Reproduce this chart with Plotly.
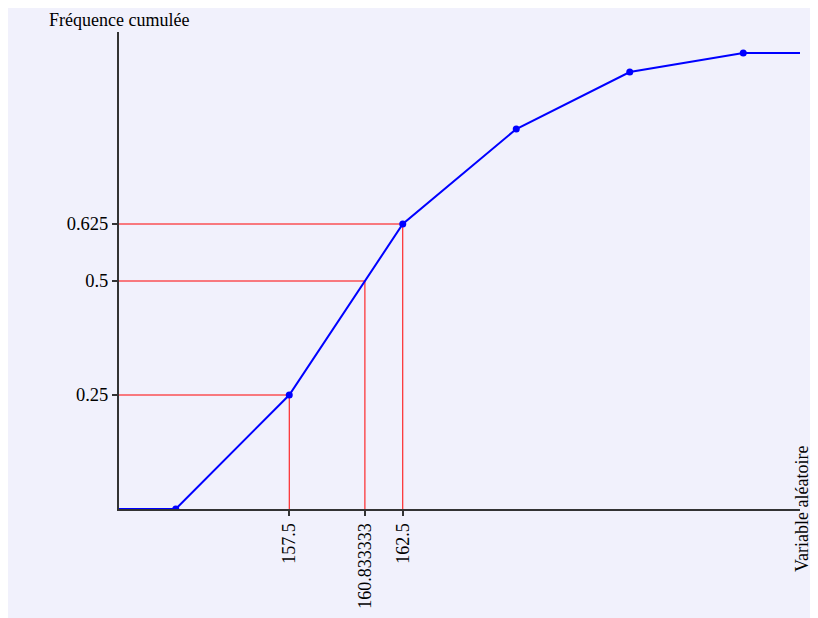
import plotly.graph_objects as go

# Data
class_bounds = [150, 152.5, 157.5, 162.5, 167.5, 172.5, 177.5, 180]
cumulative_freq = [0, 0, 6/24, 15/24, 20/24, 23/24, 1, 1]
marker_x = [152.5, 157.5, 162.5, 167.5, 172.5, 177.5]
marker_y = [0, 6/24, 15/24, 20/24, 23/24, 1]
quantile_levels = [0.25, 0.5, 0.625]
quantile_values = [157.5, 160.833333, 162.5]
x_tick_labels = ["157.5", "160.833333", "162.5"]
y_tick_labels = ["0.25", "0.5", "0.625"]

FONT = "Liberation Serif"
BG = "#f1f1fc"

fig = go.Figure()

# red guide lines
for lvl, val in zip(quantile_levels, quantile_values):
    fig.add_trace(go.Scatter(x=[class_bounds[0], val, val], y=[lvl, lvl, 0],
                             mode="lines", line=dict(color="red", width=1),
                             hoverinfo="skip", showlegend=False))

fig.add_trace(go.Scatter(x=class_bounds, y=cumulative_freq, mode="lines",
                         line=dict(color="blue", width=2), showlegend=False))
fig.add_trace(go.Scatter(x=marker_x, y=marker_y, mode="markers",
                         marker=dict(color="blue", size=7), showlegend=False))

W, H = 810, 610
L, T = 111, 24
pw, ph = 681, 477
R = W - L - pw
B = H - T - ph

fig.update_layout(
    width=W, height=H,
    margin=dict(l=L, r=R, t=T, b=B, autoexpand=False),
    paper_bgcolor=BG,
    plot_bgcolor=BG,
    font=dict(family=FONT, size=18, color="black"),
    showlegend=False,
)
fig.update_xaxes(range=[150, 180], showgrid=False, zeroline=False,
                 automargin=False,
                 showline=True, linecolor="#333", linewidth=2,
                 tickvals=quantile_values, ticktext=x_tick_labels,
                 tickangle=-90, ticks="outside", ticklen=5, tickwidth=2,
                 tickcolor="#333", tickfont=dict(family=FONT, size=18))
fig.update_yaxes(range=[0, 477/456], showgrid=False, zeroline=False,
                 automargin=False,
                 showline=True, linecolor="#333", linewidth=2,
                 tickvals=quantile_levels, ticktext=y_tick_labels,
                 ticks="outside", ticklen=5, tickwidth=2,
                 tickcolor="#333", tickfont=dict(family=FONT, size=18.5))

fig.add_annotation(text="Fréquence cumulée", xref="paper", yref="paper",
                   x=0, y=1, xanchor="center", yanchor="bottom",
                   showarrow=False, font=dict(family=FONT, size=18), yshift=0)
fig.add_annotation(text="Variable aléatoire", xref="paper", yref="paper",
                   x=1, y=0, xanchor="center", yanchor="middle", textangle=-90,
                   xshift=2, showarrow=False, font=dict(family=FONT, size=18))

fig.write_html("out.html")
